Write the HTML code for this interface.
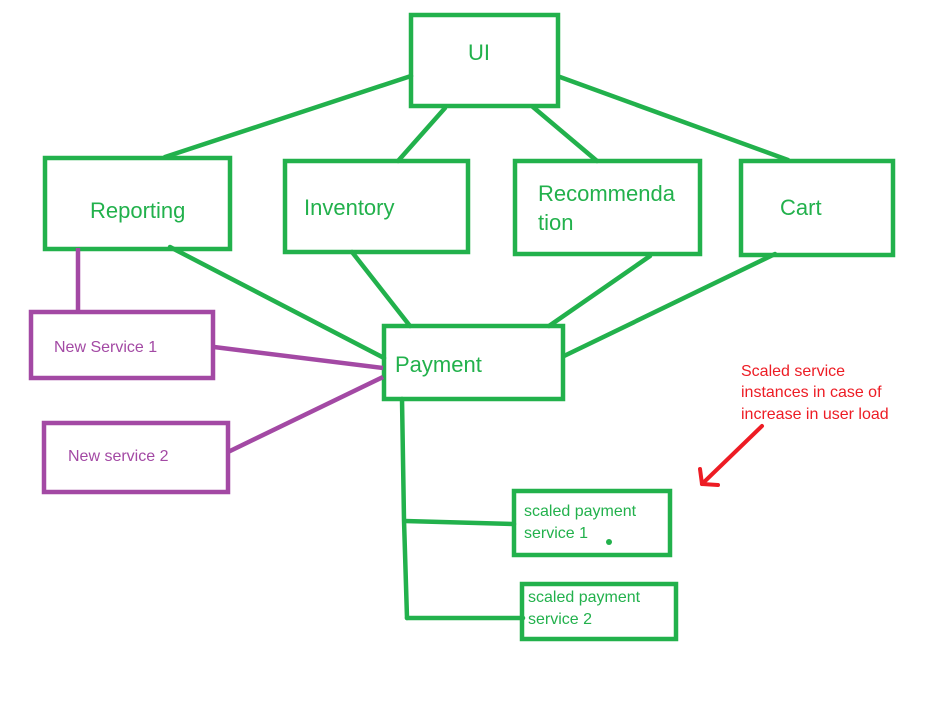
<!DOCTYPE html>
<html><head><meta charset="utf-8"><style>
html,body{margin:0;padding:0;background:#fff;}
svg{display:block;}
text{font-family:"Liberation Sans",sans-serif;}
</style></head><body>
<svg width="934" height="707" viewBox="0 0 934 707" xmlns="http://www.w3.org/2000/svg">
<g fill="none" stroke="#22b14c" stroke-width="4.5" stroke-linecap="round">
<rect x="411" y="15" width="147" height="91"/>
<rect x="45" y="158" width="185" height="91"/>
<rect x="285" y="161" width="183" height="91"/>
<rect x="515" y="161" width="185" height="93"/>
<rect x="741" y="161" width="152" height="94"/>
<rect x="384" y="326" width="179" height="73"/>
<rect x="514" y="491" width="156" height="64"/>
<rect x="522" y="584" width="154" height="55"/>
<line x1="411" y1="76" x2="165" y2="157"/>
<line x1="445" y1="108" x2="398" y2="161"/>
<line x1="533" y1="107" x2="597" y2="161"/>
<line x1="560" y1="77" x2="788" y2="160"/>
<line x1="170" y1="247" x2="384" y2="358"/>
<line x1="352" y1="252" x2="410" y2="326"/>
<line x1="650" y1="256" x2="549" y2="326"/>
<line x1="775" y1="254" x2="564" y2="356"/>
<polyline points="402,399 404,520 407,618"/>
<line x1="405" y1="521" x2="514" y2="524"/>
<line x1="407" y1="618" x2="523" y2="618"/>
</g>
<circle cx="609" cy="542" r="3" fill="#22b14c"/>
<g fill="none" stroke="#a349a4" stroke-width="4.5">
<rect x="31" y="312" width="182" height="66"/>
<rect x="44" y="423" width="184" height="69"/>
<line x1="78" y1="248" x2="78" y2="312"/>
<line x1="214" y1="347" x2="383" y2="368"/>
<line x1="228" y1="452" x2="383" y2="377"/>
</g>
<g fill="none" stroke="#ed1c24" stroke-width="4" stroke-linecap="round">
<line x1="762" y1="426" x2="702" y2="484"/>
<line x1="702" y1="484" x2="700" y2="469"/>
<line x1="702" y1="484" x2="718" y2="485"/>
</g>
<g fill="#22b14c" font-size="22">
<text x="468" y="60">UI</text>
<text x="90" y="218">Reporting</text>
<text x="304" y="215">Inventory</text>
<text x="538" y="201">Recommenda</text>
<text x="538" y="230">tion</text>
<text x="780" y="215">Cart</text>
<text x="395" y="372">Payment</text>
</g>
<g fill="#22b14c" font-size="16">
<text x="524" y="516">scaled payment</text>
<text x="524" y="538">service 1</text>
<text x="528" y="602">scaled payment</text>
<text x="528" y="624">service 2</text>
</g>
<g fill="#a349a4" font-size="16">
<text x="54" y="352">New Service 1</text>
<text x="68" y="461">New service 2</text>
</g>
<g fill="#ed1c24" font-size="16">
<text x="741" y="376">Scaled service</text>
<text x="741" y="397">instances in case of</text>
<text x="741" y="419">increase in user load</text>
</g>
</svg>
</body></html>
